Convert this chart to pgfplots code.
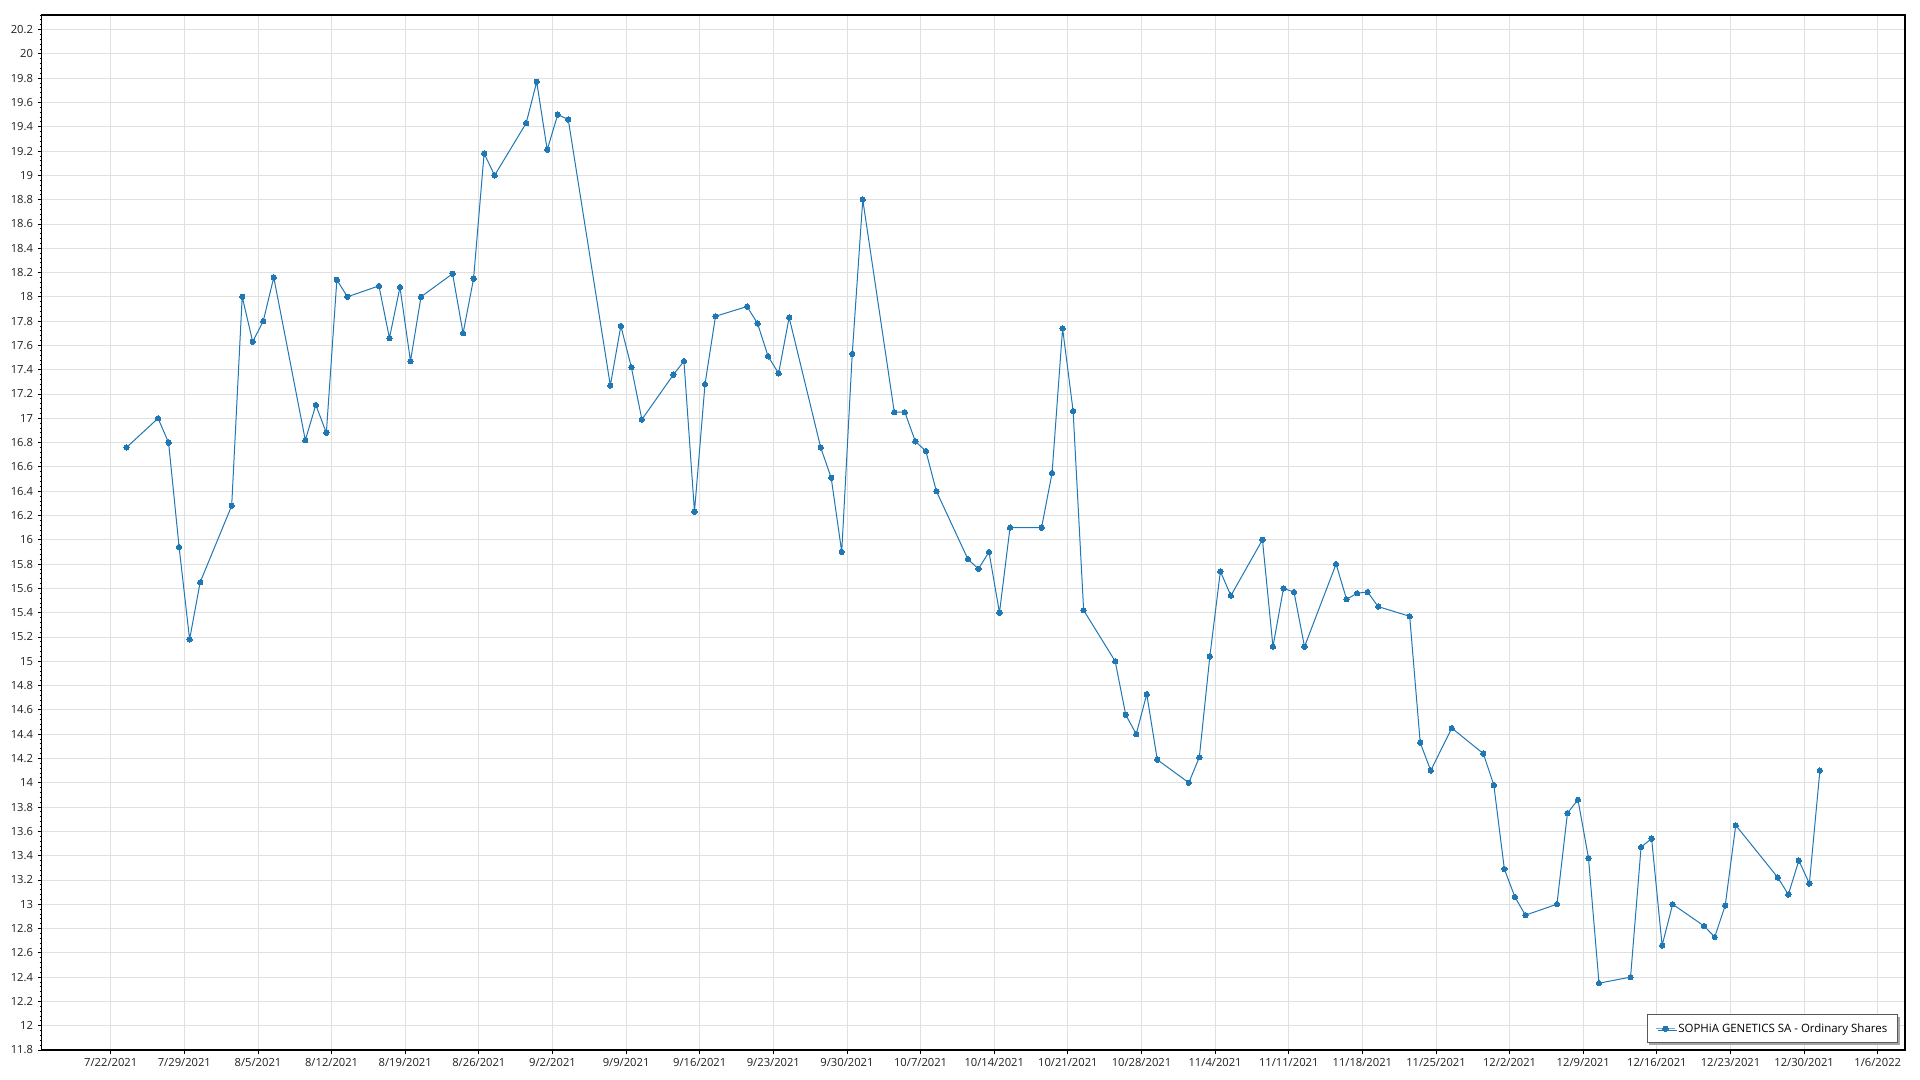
\documentclass[border=0pt]{standalone}
\usepackage{pgfplots}
\pgfplotsset{compat=1.18}
\usepackage{pgfplotstable}
\usepackage{fontspec}
\setmainfont{Open Sans}
\usetikzlibrary{shadows}
\definecolor{ser}{HTML}{1F77B4}
\pgfplotstableread{
d v
1.5 16.76
4.5 17.00
5.5 16.80
6.5 15.94
7.5 15.18
8.5 15.65
11.5 16.28
12.5 18.00
13.5 17.63
14.5 17.80
15.5 18.16
18.5 16.82
19.5 17.11
20.5 16.88
21.5 18.14
22.5 18.00
25.5 18.09
26.5 17.66
27.5 18.08
28.5 17.47
29.5 18.00
32.5 18.19
33.5 17.70
34.5 18.15
35.5 19.18
36.5 19.00
39.5 19.43
40.5 19.77
41.5 19.21
42.5 19.50
43.5 19.46
47.5 17.27
48.5 17.76
49.5 17.42
50.5 16.99
53.5 17.36
54.5 17.47
55.5 16.23
56.5 17.28
57.5 17.84
60.5 17.92
61.5 17.78
62.5 17.51
63.5 17.37
64.5 17.83
67.5 16.76
68.5 16.51
69.5 15.90
70.5 17.53
71.5 18.80
74.5 17.05
75.5 17.05
76.5 16.81
77.5 16.73
78.5 16.40
81.5 15.84
82.5 15.76
83.5 15.90
84.5 15.40
85.5 16.10
88.5 16.10
89.5 16.55
90.5 17.74
91.5 17.06
92.5 15.42
95.5 15.00
96.5 14.56
97.5 14.40
98.5 14.73
99.5 14.19
102.5 14.00
103.5 14.21
104.5 15.04
105.5 15.74
106.5 15.54
109.5 16.00
110.5 15.12
111.5 15.60
112.5 15.57
113.5 15.12
116.5 15.80
117.5 15.51
118.5 15.56
119.5 15.57
120.5 15.45
123.5 15.37
124.5 14.33
125.5 14.10
127.5 14.45
130.5 14.24
131.5 13.98
132.5 13.29
133.5 13.06
134.5 12.91
137.5 13.00
138.5 13.75
139.5 13.86
140.5 13.38
141.5 12.35
144.5 12.40
145.5 13.47
146.5 13.54
147.5 12.66
148.5 13.00
151.5 12.82
152.5 12.73
153.5 12.99
154.5 13.65
158.5 13.22
159.5 13.08
160.5 13.36
161.5 13.17
162.5 14.10
}\soph
\begin{document}
\begin{tikzpicture}
\path[use as bounding box] (0,0) rectangle (1440pt,810pt);
\begin{axis}[
  at={(31.3pt,22.5pt)}, anchor=south west,
  scale only axis, width=1397.5pt, height=776.25pt,
  xmin=-6.56, xmax=170.6, ymin=11.8, ymax=20.32,
  xtick={0,7,...,168},
  xticklabels={7/22/2021,7/29/2021,8/5/2021,8/12/2021,8/19/2021,8/26/2021,9/2/2021,9/9/2021,9/16/2021,9/23/2021,9/30/2021,10/7/2021,10/14/2021,10/21/2021,10/28/2021,11/4/2021,11/11/2021,11/18/2021,11/25/2021,12/2/2021,12/9/2021,12/16/2021,12/23/2021,12/30/2021,1/6/2022},
  ytick distance=0.2,
  minor y tick num=4,
  xtick pos=left, ytick pos=left,
  grid=major,
  major grid style={black!12, line width=0.6pt},
  tick align=outside,
  major tick length=3pt, minor tick length=1.6pt,
  every tick/.style={black, line width=0.6pt},
  axis line style={black, line width=1pt},
  ticklabel style={font=\fontsize{8.4}{10}\selectfont, text=black!88},
  yticklabel style={/pgf/number format/fixed, /pgf/number format/precision=1},
  /pgf/number format/assume math mode=true,
  legend style={at={(1,0)}, anchor=south east, xshift=-5pt, yshift=5pt,
    draw=black!65, line width=0.8pt, fill=white,
    font=\fontsize{8.6}{10}\selectfont, inner xsep=6pt, inner ysep=4.5pt,
    drop shadow={shadow xshift=1.5pt, shadow yshift=-1.5pt, fill=black!35, opacity=1}},
  legend cell align=left,
  legend image code/.code={
    \draw[mark repeat=2, mark phase=2, #1, line width=1pt, draw opacity=0.6]
      plot coordinates {(0cm,0cm) (0.25cm,0cm) (0.5cm,0cm)};},
]
\addplot[color=ser, line width=0.75pt, mark=*, mark size=2pt,
  mark options={fill=ser, draw=ser, line width=0pt, draw opacity=1, fill opacity=1}] table[x=d, y=v] {\soph};
\addlegendentry{SOPHiA GENETICS SA - Ordinary Shares}
\end{axis}
\end{tikzpicture}
\end{document}
